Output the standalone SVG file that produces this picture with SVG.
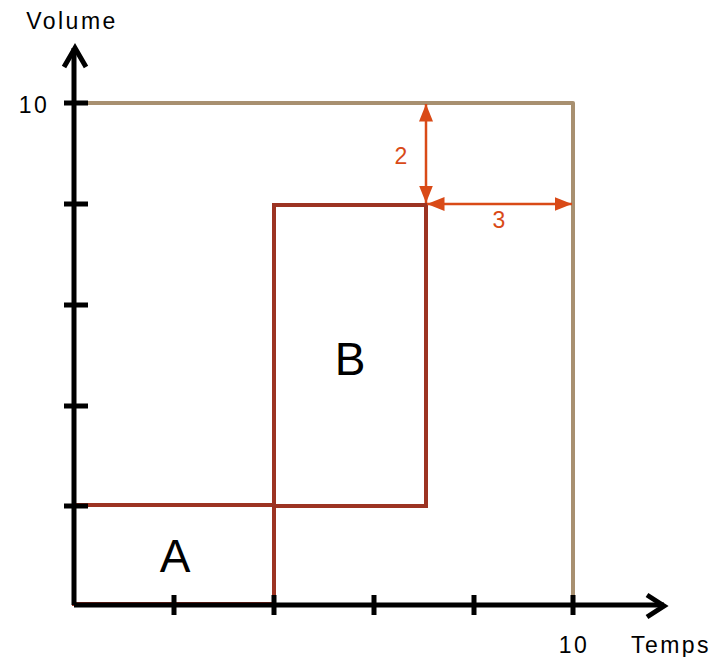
<svg xmlns="http://www.w3.org/2000/svg" width="717" height="657" viewBox="0 0 717 657">
<style>
.t{font-family:"Liberation Sans",Arial,sans-serif;fill:#000}
.lab{font-size:23px;letter-spacing:2.5px}
.big{font-size:46px}
.ax{stroke:#000;stroke-width:5;fill:none;stroke-linecap:butt}
.rect{fill:none;stroke:#9C3322;stroke-width:4}
.dim{stroke:#D94A17;stroke-width:2.5;fill:none}
.dl{font-family:"Liberation Sans",Arial,sans-serif;fill:#D94A17;font-size:23px}
</style>
<defs>
<marker id="ah" viewBox="0 0 10 10" refX="10" refY="5" markerWidth="7" markerHeight="7" markerUnits="strokeWidth" orient="auto-start-reverse">
<path d="M0,1 L10,5 L0,9 Z" fill="#D94A17"/>
</marker>
</defs>
<g id="total">
<path d="M74,103 H573 V605" fill="none" stroke="#A89070" stroke-width="4" stroke-linejoin="round"/>
</g>
<g id="rectA">
<rect class="rect" x="74" y="505" width="200" height="99"/>
<text class="t big" x="175" y="572" text-anchor="middle">A</text>
</g>
<g id="rectB">
<rect class="rect" x="274" y="205" width="152" height="301"/>
<text class="t big" x="350" y="375" text-anchor="middle">B</text>
</g>
<g id="axes">
<path class="ax" d="M74,605 V48"/>
<path class="ax" d="M74,605 H664"/>
<path class="ax" d="M64,67 L75,48 L86,67" stroke-linejoin="miter"/>
<path class="ax" d="M647,595 L664,606 L647,617" stroke-linejoin="miter"/>
<path class="ax" d="M64,103 H88 M64,204 H88 M64,305 H88 M64,406 H88 M64,506 H88"/>
<path class="ax" d="M174,595 V615 M274,595 V615 M374,595 V615 M474,595 V615 M573,595 V615"/>
<text class="t lab" x="72" y="29" text-anchor="middle">Volume</text>
<text class="t lab" x="34" y="113" text-anchor="middle">10</text>
<text class="t lab" x="574" y="653" text-anchor="middle">10</text>
<text class="t lab" x="671" y="653" text-anchor="middle">Temps</text>
</g>
<g id="connectors">
<line class="dim" x1="426" y1="104" x2="426" y2="203" marker-start="url(#ah)" marker-end="url(#ah)"/>
<line class="dim" x1="427" y1="204" x2="572" y2="204" marker-start="url(#ah)" marker-end="url(#ah)"/>
<text class="dl" x="401" y="164" text-anchor="middle">2</text>
<text class="dl" x="499" y="228" text-anchor="middle">3</text>
</g>
</svg>
